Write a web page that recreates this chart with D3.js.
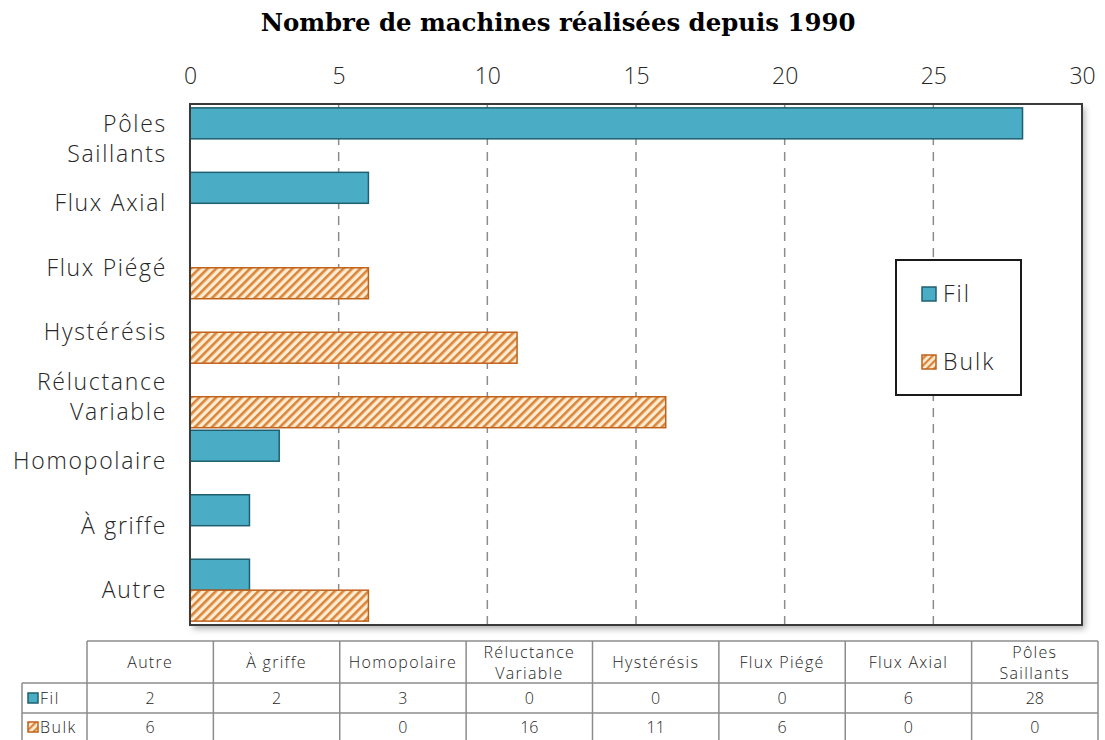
<!DOCTYPE html>
<html>
<head>
<meta charset="utf-8">
<script src="https://cdn.jsdelivr.net/npm/d3@7"></script>
<style>
  body { margin: 0; background: #fff; }
  svg { display: block; }
</style>
</head>
<body>
<div id="chart"></div>
<script>
var width = 1105;
var height = 740;

// data
var categories = ["Autre", "À griffe", "Homopolaire", "Réluctance Variable", "Hystérésis", "Flux Piégé", "Flux Axial", "Pôles Saillants"];
var filValues = [2, 2, 3, 0, 0, 0, 6, 28];
var bulkValues = [6, null, 0, 16, 11, 6, 0, 0];
var seriesNames = ["Fil", "Bulk"];
var xTicks = [0, 5, 10, 15, 20, 25, 30];
var title = "Nombre de machines réalisées depuis 1990";

var font = "'Open Sans', Lato, sans-serif";
var textCol = "#262626";

var svg = d3.select("#chart").append("svg")
    .attr("width", width)
    .attr("height", height);

var defs = svg.append("defs");

// hatch pattern for Bulk
var pat = defs.append("pattern")
    .attr("id", "hatch")
    .attr("patternUnits", "userSpaceOnUse")
    .attr("width", 6).attr("height", 6)
    .attr("patternTransform", "rotate(45)");
pat.append("rect").attr("width", 6).attr("height", 6).attr("fill", "#fdecd2");
pat.append("rect").attr("width", 2.6).attr("height", 6).attr("fill", "#d9853b");

// small hatch for legend keys
var pat2 = defs.append("pattern")
    .attr("id", "hatchSmall")
    .attr("patternUnits", "userSpaceOnUse")
    .attr("width", 5).attr("height", 5)
    .attr("patternTransform", "rotate(45)");
pat2.append("rect").attr("width", 5).attr("height", 5).attr("fill", "#fdecd2");
pat2.append("rect").attr("width", 2.2).attr("height", 5).attr("fill", "#d9853b");

var shadow = defs.append("filter").attr("id", "shadow")
    .attr("x", "-5%").attr("y", "-5%").attr("width", "110%").attr("height", "115%");
shadow.append("feDropShadow")
    .attr("dx", 3).attr("dy", 4).attr("stdDeviation", 3)
    .attr("flood-color", "#000").attr("flood-opacity", 0.3);

var fills = { Fil: "#4bacc6", Bulk: "url(#hatch)" };
var strokes = { Fil: "#1f5f6f", Bulk: "#c0621c" };

// plot area
var plot = { left: 190, right: 1082, top: 104, bottom: 625 };

var x = d3.scaleLinear()
    .domain([0, 30])
    .range([plot.left, plot.right]);

var y = d3.scaleBand()
    .domain(categories.slice().reverse())
    .range([plot.top, plot.bottom])
    .paddingInner(0.04)
    .paddingOuter(0.06);

var ySub = d3.scaleBand()
    .domain(seriesNames)
    .range([0, y.bandwidth()]);

// title
svg.append("text")
    .attr("x", 558).attr("y", 31)
    .attr("text-anchor", "middle")
    .attr("font-family", "'DejaVu Serif', serif")
    .attr("font-weight", "bold")
    .attr("font-size", 24.4)
    .attr("fill", "#000")
    .text(title);

// plot background with shadow
svg.append("rect")
    .attr("x", plot.left).attr("y", plot.top)
    .attr("width", plot.right - plot.left).attr("height", plot.bottom - plot.top)
    .attr("fill", "#fff")
    .attr("filter", "url(#shadow)");

// gridlines
svg.append("g").selectAll("line")
    .data(xTicks.filter(function(d) { return d > 0 && d < 30; }))
    .enter().append("line")
    .attr("x1", function(d) { return x(d); })
    .attr("x2", function(d) { return x(d); })
    .attr("y1", plot.top).attr("y2", plot.bottom)
    .attr("stroke", "#8c8c8c")
    .attr("stroke-width", 1.5)
    .attr("stroke-dasharray", "9,7");

// top axis
var xAxis = d3.axisTop(x).tickValues(xTicks).tickSize(0).tickPadding(0);
var gx = svg.append("g")
    .attr("transform", "translate(0,84)")
    .call(xAxis);
gx.select(".domain").remove();
gx.selectAll("text")
    .attr("font-family", font)
    .attr("font-weight", 300)
    .attr("font-size", 23)
    .attr("fill", textCol);

// bars
var rows = categories.map(function(c, i) {
    return { cat: c, Fil: filValues[i], Bulk: bulkValues[i] };
});

var groups = svg.append("g").selectAll("g")
    .data(rows)
    .enter().append("g")
    .attr("transform", function(d) { return "translate(0," + y(d.cat) + ")"; });

groups.selectAll("rect")
    .data(function(d) {
        return seriesNames.map(function(s) { return { key: s, value: d[s] }; })
            .filter(function(e) { return e.value > 0; });
    })
    .enter().append("rect")
    .attr("x", x(0))
    .attr("y", function(d) { return ySub(d.key); })
    .attr("width", function(d) { return x(d.value) - x(0); })
    .attr("height", ySub.bandwidth())
    .attr("fill", function(d) { return fills[d.key]; })
    .attr("stroke", function(d) { return strokes[d.key]; })
    .attr("stroke-width", 1.5);

// plot frame
svg.append("rect")
    .attr("x", plot.left).attr("y", plot.top)
    .attr("width", plot.right - plot.left).attr("height", plot.bottom - plot.top)
    .attr("fill", "none")
    .attr("stroke", "#3a3a3a")
    .attr("stroke-width", 2);

// category labels
function splitLabel(s) {
    return (s.length > 12 && s.indexOf(" ") > 0) ? s.split(" ") : [s];
}

var catLabels = svg.append("g").selectAll("text")
    .data(categories)
    .enter().append("text")
    .attr("text-anchor", "end")
    .attr("font-family", font)
    .attr("font-weight", 300)
    .attr("font-size", 23)
    .attr("letter-spacing", 1.7)
    .attr("fill", textCol)
    .attr("transform", function(d) {
        return "translate(167," + (y(d) + y.bandwidth() / 2) + ")";
    });

catLabels.each(function(d) {
    var lines = splitLabel(d);
    var t = d3.select(this);
    lines.forEach(function(l, i) {
        t.append("tspan")
            .attr("x", 0)
            .attr("y", (i - (lines.length - 1) / 2) * 30 + 8)
            .text(l);
    });
});

// legend
var leg = svg.append("g");
leg.append("rect")
    .attr("x", 896).attr("y", 260)
    .attr("width", 125).attr("height", 135)
    .attr("fill", "#fff")
    .attr("stroke", "#1a1a1a")
    .attr("stroke-width", 2);

seriesNames.forEach(function(s, i) {
    var yy = 287 + i * 68;
    leg.append("rect")
        .attr("x", 922).attr("y", yy)
        .attr("width", 14).attr("height", 14)
        .attr("fill", s === "Bulk" ? "url(#hatchSmall)" : fills[s])
        .attr("stroke", strokes[s])
        .attr("stroke-width", 1.5);
    leg.append("text")
        .attr("x", 943).attr("y", yy + 15)
        .attr("font-family", font)
        .attr("font-weight", 300)
        .attr("font-size", 23)
        .attr("fill", textCol)
        .attr("letter-spacing", 2)
        .text(s);
});

// data table
var table = { left: 87, right: 1098, keyLeft: 22, top: 641, headBottom: 683, row1: 713, bottom: 742 };
var colX = d3.scaleBand()
    .domain(categories)
    .range([table.left, table.right]);

var tg = svg.append("g");
var gridCol = "#8c8c8c";

function hline(x1, x2, yy) {
    tg.append("line").attr("x1", x1).attr("x2", x2).attr("y1", yy).attr("y2", yy)
        .attr("stroke", gridCol).attr("stroke-width", 1.5);
}
function vline(xx, y1, y2) {
    tg.append("line").attr("x1", xx).attr("x2", xx).attr("y1", y1).attr("y2", y2)
        .attr("stroke", gridCol).attr("stroke-width", 1.5);
}

hline(table.left, table.right, table.top);
hline(table.keyLeft, table.right, table.headBottom);
hline(table.keyLeft, table.right, table.row1);
vline(table.keyLeft, table.headBottom, table.bottom);
categories.forEach(function(c) { vline(colX(c), table.top, table.bottom); });
vline(table.right, table.top, table.bottom);

// header text
categories.forEach(function(c) {
    var lines = splitLabel(c);
    var t = tg.append("text")
        .attr("text-anchor", "middle")
        .attr("font-family", font)
        .attr("font-weight", 300)
        .attr("font-size", 16)
        .attr("letter-spacing", 1.3)
        .attr("fill", textCol);
    lines.forEach(function(l, i) {
        t.append("tspan")
            .attr("x", colX(c) + colX.bandwidth() / 2)
            .attr("y", 668 + (i - (lines.length - 1) / 2) * 21)
            .text(l);
    });
});

// rows
var rowData = [
    { key: "Fil", values: filValues, yMid: 698 },
    { key: "Bulk", values: bulkValues, yMid: 727 }
];

rowData.forEach(function(r) {
    tg.append("rect")
        .attr("x", 28).attr("y", r.yMid - 5)
        .attr("width", 10).attr("height", 10)
        .attr("fill", r.key === "Bulk" ? "url(#hatchSmall)" : fills[r.key])
        .attr("stroke", strokes[r.key])
        .attr("stroke-width", 1.5);
    tg.append("text")
        .attr("x", 40).attr("y", r.yMid + 6)
        .attr("font-family", font)
        .attr("font-weight", 300)
        .attr("font-size", 16)
        .attr("fill", textCol)
        .attr("letter-spacing", 1.5)
        .text(r.key);
    tg.selectAll(null)
        .data(r.values)
        .enter().append("text")
        .attr("x", function(d, i) { return colX(categories[i]) + colX.bandwidth() / 2; })
        .attr("y", r.yMid + 6)
        .attr("text-anchor", "middle")
        .attr("font-family", font)
        .attr("font-weight", 300)
        .attr("font-size", 16)
        .attr("fill", textCol)
        .text(function(d) { return d == null ? "" : d; });
});
</script>
</body>
</html>
